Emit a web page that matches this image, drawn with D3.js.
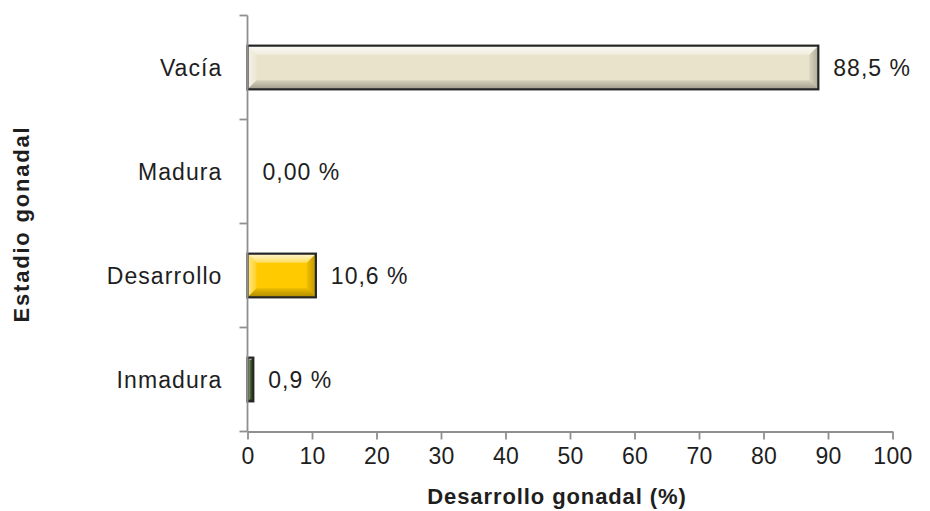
<!DOCTYPE html>
<html>
<head>
<meta charset="utf-8">
<script src="https://cdn.jsdelivr.net/npm/d3@7"></script>
<style>
  html, body { margin: 0; padding: 0; background: #fff; }
  svg { display: block; font-family: "Liberation Sans", Arial, sans-serif; }
</style>
</head>
<body>
<svg id="chart" width="930" height="511"></svg>
<script>
// Gonadal stage distribution (%)
const categories = ["Vacía", "Madura", "Desarrollo", "Inmadura"];
const values = [88.5, 0.0, 10.6, 0.9];
const decimals = [1, 2, 1, 1];
const barColors = ["#E9E3CC", "#E9E3CC", "#FFCA00", "#3C5A24"];
const xTicks = [0, 10, 20, 30, 40, 50, 60, 70, 80, 90, 100];
const xTitle = "Desarrollo gonadal (%)";
const yTitle = "Estadio gonadal";

const svg = d3.select("#chart");
const axisColor = "#8f8f8f";
const textColor = "#1e1e1e";

const x = d3.scaleLinear().domain([0, 100]).range([247.5, 892.5]);
const y = d3.scaleBand()
  .domain(categories)
  .range([15.5, 431.5])
  .paddingInner(0.58)
  .paddingOuter(0.29);

const es = d3.formatLocale({ decimal: ",", thousands: ".", grouping: [3], currency: ["", "€"] });

// Gradients for the bevel edges
const defs = svg.append("defs");
const grad = (id, x2, y2, stops) => {
  const lg = defs.append("linearGradient").attr("id", id)
    .attr("x1", 0).attr("y1", 0).attr("x2", x2).attr("y2", y2);
  stops.forEach(s => lg.append("stop").attr("offset", s[0])
    .attr("stop-color", s[1]).attr("stop-opacity", s[2]));
};
grad("bevTop", 0, 1, [[0, "#fff", 0.85], [1, "#fff", 0.35]]);
grad("bevLeft", 1, 0, [[0, "#fff", 0.55], [1, "#fff", 0.15]]);
grad("bevBottom", 0, 1, [[0, "#000", 0.08], [1, "#000", 0.32]]);
grad("bevRight", 1, 0, [[0, "#000", 0.06], [1, "#000", 0.25]]);

// Bars with a bevelled face
const bars = svg.append("g");
categories.forEach((c, i) => {
  const v = values[i];
  if (v <= 0) return;
  const x0 = x(0), x1 = x(v);
  const w = x1 - x0, h = y.bandwidth();
  const y0 = y(c);
  const b = Math.min(9, w / 2, h / 2);
  const g = bars.append("g");
  g.append("rect").attr("x", x0).attr("y", y0).attr("width", w).attr("height", h)
    .attr("fill", barColors[i]);
  const poly = (pts, fill) => g.append("polygon")
    .attr("points", pts.map(p => p.join(",")).join(" "))
    .attr("fill", fill);
  poly([[x0, y0], [x1, y0], [x1 - b, y0 + b], [x0 + b, y0 + b]], "url(#bevTop)");
  poly([[x0, y0], [x0 + b, y0 + b], [x0 + b, y0 + h - b], [x0, y0 + h]], "url(#bevLeft)");
  poly([[x0, y0 + h], [x0 + b, y0 + h - b], [x1 - b, y0 + h - b], [x1, y0 + h]], "url(#bevBottom)");
  poly([[x1, y0], [x1, y0 + h], [x1 - b, y0 + h - b], [x1 - b, y0 + b]], "url(#bevRight)");
  g.append("rect").attr("x", x0).attr("y", y0).attr("width", w).attr("height", h)
    .attr("fill", "none").attr("stroke", "#262626").attr("stroke-width", 2.2);
});

// Value labels
svg.append("g").selectAll("text")
  .data(categories)
  .join("text")
  .attr("x", (c, i) => x(values[i]) + 15)
  .attr("y", c => y(c) + y.bandwidth() / 2)
  .attr("dy", "0.35em")
  .attr("font-size", 23)
  .attr("letter-spacing", 1.0)
  .attr("fill", textColor)
  .text((c, i) => es.format("." + decimals[i] + "f")(values[i]) + " %");

// X axis
const xAxis = svg.append("g")
  .attr("transform", `translate(0,${y.range()[1]})`)
  .call(d3.axisBottom(x).tickValues(xTicks).tickSize(8).tickSizeOuter(0).tickPadding(8));
xAxis.selectAll("path, line").attr("stroke", axisColor).attr("stroke-width", 1.8);
xAxis.selectAll("text").attr("font-size", 23).attr("letter-spacing", 0.3)
  .attr("fill", textColor).attr("font-family", "Liberation Sans, Arial, sans-serif");

// Y axis: line, boundary ticks, category labels
const yAxis = svg.append("g");
const [r0, r1] = y.range();
yAxis.append("line").attr("x1", x(0)).attr("x2", x(0)).attr("y1", r0).attr("y2", r1)
  .attr("stroke", axisColor).attr("stroke-width", 1.8);
d3.range(categories.length + 1).forEach(k => {
  const ty = r0 + k * y.step();
  yAxis.append("line").attr("x1", x(0) - 8).attr("x2", x(0)).attr("y1", ty).attr("y2", ty)
    .attr("stroke", axisColor).attr("stroke-width", 1.8);
});
yAxis.selectAll("text.cat")
  .data(categories)
  .join("text")
  .attr("class", "cat")
  .attr("x", x(0) - 25)
  .attr("y", c => y(c) + y.bandwidth() / 2)
  .attr("dy", "0.35em")
  .attr("text-anchor", "end")
  .attr("font-size", 23)
  .attr("letter-spacing", 1.1)
  .attr("fill", textColor)
  .text(c => c);

// Axis titles
svg.append("text")
  .attr("x", 557).attr("y", 504)
  .attr("text-anchor", "middle")
  .attr("font-size", 22).attr("font-weight", "bold").attr("letter-spacing", 0.9)
  .attr("fill", textColor)
  .text(xTitle);

svg.append("text")
  .attr("transform", "translate(29,224) rotate(-90)")
  .attr("text-anchor", "middle")
  .attr("font-size", 22).attr("font-weight", "bold").attr("letter-spacing", 1.8)
  .attr("fill", textColor)
  .text(yTitle);
</script>
</body>
</html>
